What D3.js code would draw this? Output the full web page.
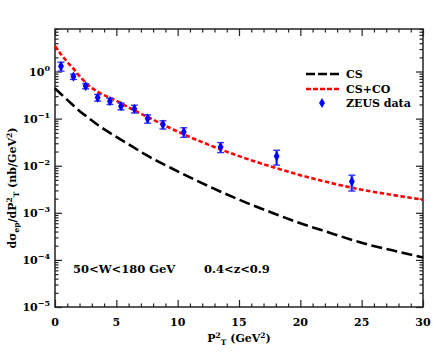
<!DOCTYPE html>
<html>
<head>
<meta charset="utf-8">
<script src="https://cdn.jsdelivr.net/npm/d3@7"></script>
<style>
  body { margin: 0; background: #fff; }
  svg text { font-family: "DejaVu Serif", serif; font-weight: bold; fill: #000; }
</style>
</head>
<body>
<div id="chart"></div>
<script>
// theory curves, sampled on a P_T^2 grid (GeV^2)
const gridP2 = [0, 0.5, 1, 1.5, 2, 2.5, 3.5, 5, 6.25, 7.5, 10, 12.5, 15, 17.5, 20, 22.5, 25, 27.5, 30];
const csVals = [0.44, 0.33, 0.25, 0.19, 0.145, 0.115, 0.073, 0.041, 0.026, 0.0165, 0.0076, 0.0037, 0.0019, 0.00105, 0.0006, 0.00037, 0.00023, 0.00016, 0.000113];
const cscoVals = [3.5, 2.3, 1.6, 1.15, 0.8, 0.58, 0.37, 0.24, 0.16, 0.11, 0.053, 0.028, 0.016, 0.0098, 0.0063, 0.0043, 0.0031, 0.0024, 0.0019];

// ZEUS measurements
const zeusP2 = [0.49, 1.5, 2.5, 3.48, 4.48, 5.38, 6.47, 7.55, 8.8, 10.5, 13.5, 18.07, 24.2];
const zeusVals = [1.30, 0.78, 0.49, 0.28, 0.235, 0.184, 0.162, 0.10, 0.075, 0.052, 0.025, 0.0158, 0.0046];
const zeusErr = [0.28, 0.1, 0.06, 0.045, 0.035, 0.03, 0.03, 0.02, 0.015, 0.012, 0.006, 0.0055, 0.0017];

const xTicks = [0, 5, 10, 15, 20, 25, 30];
const yTicks = [1e-5, 1e-4, 1e-3, 1e-2, 1e-1, 1];
const yTickExp = ['\u22125', '\u22124', '\u22123', '\u22122', '\u22121', '0'];

const W = 436, H = 354;
const margin = { top: 29, right: 13, bottom: 47, left: 55 };
const iw = W - margin.left - margin.right;
const ih = H - margin.top - margin.bottom;

const svg = d3.select('#chart').append('svg')
    .attr('width', W)
    .attr('height', H);

const g = svg.append('g')
    .attr('transform', `translate(${margin.left},${margin.top})`);

const x = d3.scaleLinear().domain([0, 30]).range([0, iw]);
const y = d3.scaleLog().domain([1e-5, 8]).range([ih, 0]);

// minor tick values
const xMinor = d3.range(0, 31, 1).filter(v => v % 5 !== 0);
const yMinor = [];
for (let e = -5; e <= 0; e++) {
    for (let m = 2; m <= 9; m++) {
        const v = m * Math.pow(10, e);
        if (v <= 8) yMinor.push(v);
    }
}

const tickCol = '#222';

// axes with inward ticks on all four sides
function addAxis(axisFn, scale, vals, len, transform) {
    g.append('g')
        .attr('transform', transform)
        .call(axisFn(scale).tickValues(vals).tickSize(len).tickFormat(''))
        .call(a => a.select('.domain').remove())
        .call(a => a.selectAll('line').attr('stroke', tickCol).attr('stroke-width', 1.2));
}

addAxis(d3.axisTop, x, xTicks, 7, `translate(0,${ih})`);
addAxis(d3.axisTop, x, xMinor, 3.5, `translate(0,${ih})`);
addAxis(d3.axisBottom, x, xTicks, 7, 'translate(0,0)');
addAxis(d3.axisBottom, x, xMinor, 3.5, 'translate(0,0)');
addAxis(d3.axisRight, y, yTicks, 7, 'translate(0,0)');
addAxis(d3.axisRight, y, yMinor, 3.5, 'translate(0,0)');
addAxis(d3.axisLeft, y, yTicks, 7, `translate(${iw},0)`);
addAxis(d3.axisLeft, y, yMinor, 3.5, `translate(${iw},0)`);

// frame
g.append('rect')
    .attr('width', iw)
    .attr('height', ih)
    .attr('fill', 'none')
    .attr('stroke', tickCol)
    .attr('stroke-width', 1.5);

// x tick labels
g.selectAll('.xlab')
    .data(xTicks)
    .join('text')
    .attr('class', 'xlab')
    .attr('x', d => x(d))
    .attr('y', ih + 19)
    .attr('text-anchor', 'middle')
    .style('font-size', '11px')
    .text(d => d);

// y tick labels 10^n
const ylab = g.selectAll('.ylab')
    .data(yTicks)
    .join('text')
    .attr('class', 'ylab')
    .attr('x', -5)
    .attr('y', d => y(d) + 4)
    .attr('text-anchor', 'end')
    .style('font-size', '11px');
ylab.append('tspan').text('10');
ylab.append('tspan')
    .attr('dy', -5)
    .style('font-size', '8px')
    .text((d, i) => yTickExp[i]);

// theory curves
const line = d3.line()
    .x(d => x(d[0]))
    .y(d => y(d[1]))
    .curve(d3.curveMonotoneX);

g.append('path')
    .datum(gridP2.map((p, i) => [p, csVals[i]]))
    .attr('d', line)
    .attr('fill', 'none')
    .attr('stroke', '#000')
    .attr('stroke-width', 2.6)
    .attr('stroke-dasharray', '11,4.5');

g.append('path')
    .datum(gridP2.map((p, i) => [p, cscoVals[i]]))
    .attr('d', line)
    .attr('fill', 'none')
    .attr('stroke', '#ff0000')
    .attr('stroke-width', 2.6)
    .attr('stroke-dasharray', '4.5,2.5');

// ZEUS data with error bars
const zeus = zeusP2.map((p, i) => ({ p, v: zeusVals[i], e: zeusErr[i] }));
const pts = g.selectAll('.pt')
    .data(zeus)
    .join('g')
    .attr('class', 'pt')
    .attr('transform', d => `translate(${x(d.p)},0)`);

pts.append('line')
    .attr('y1', d => y(d.v + d.e))
    .attr('y2', d => y(d.v - d.e))
    .attr('stroke', '#7a7aff')
    .attr('stroke-width', 3);
pts.append('line')
    .attr('y1', d => y(d.v + d.e))
    .attr('y2', d => y(d.v - d.e))
    .attr('stroke', '#0000ff')
    .attr('stroke-width', 1.2);
pts.selectAll('.cap')
    .data(d => [d.v + d.e, d.v - d.e])
    .join('line')
    .attr('class', 'cap')
    .attr('x1', -3.5)
    .attr('x2', 3.5)
    .attr('y1', d => y(d))
    .attr('y2', d => y(d))
    .attr('stroke', '#3333ff')
    .attr('stroke-width', 1.4);

const diamond = d3.symbol().type(d3.symbolDiamond).size(30);
pts.append('path')
    .attr('d', diamond)
    .attr('transform', d => `translate(0,${y(d.v)})`)
    .attr('fill', '#0000ff');

// legend
const leg = svg.append('g').attr('transform', 'translate(306,74)');
leg.append('line')
    .attr('x1', 0).attr('x2', 34).attr('y1', 0).attr('y2', 0)
    .attr('stroke', '#000').attr('stroke-width', 2.6)
    .attr('stroke-dasharray', '9,3');
leg.append('line')
    .attr('x1', 0).attr('x2', 34).attr('y1', 15).attr('y2', 15)
    .attr('stroke', '#ff0000').attr('stroke-width', 2.6)
    .attr('stroke-dasharray', '5,2');
leg.append('path')
    .attr('d', diamond)
    .attr('transform', 'translate(16,29)')
    .attr('fill', '#0000ff');
leg.selectAll('text')
    .data(['CS', 'CS+CO', 'ZEUS data'])
    .join('text')
    .attr('x', 40)
    .attr('y', (d, i) => i * 14.5 + 4)
    .style('font-size', '11px')
    .text(d => d);

// kinematic range note
const note = svg.append('text')
    .attr('y', 273)
    .style('font-size', '11.5px');
note.append('tspan').attr('x', 73).text('50<W<180 GeV');
note.append('tspan').attr('x', 204).text('0.4<z<0.9');

// x axis title: P^2_T (GeV^2)
const xt = svg.append('text')
    .attr('x', margin.left + iw / 2)
    .attr('y', 342)
    .attr('text-anchor', 'middle')
    .style('font-size', '11px');
xt.append('tspan').text('P');
xt.append('tspan').attr('dy', -4).style('font-size', '7.5px').text('2');
xt.append('tspan').attr('dy', 7).style('font-size', '7.5px').text('T');
xt.append('tspan').attr('dy', -3).text(' (GeV');
xt.append('tspan').attr('dy', -4).style('font-size', '7.5px').text('2');
xt.append('tspan').attr('dy', 4).text(')');

// y axis title: dσ_ep/dP^2_T (nb/GeV^2)
const yt = svg.append('text')
    .attr('transform', `translate(16,${margin.top + ih / 2 + 20}) rotate(-90)`)
    .attr('text-anchor', 'middle')
    .style('font-size', '11px');
yt.append('tspan').text('d\u03c3');
yt.append('tspan').attr('dy', 3).style('font-size', '7.5px').text('ep');
yt.append('tspan').attr('dy', -3).text('/dP');
yt.append('tspan').attr('dy', -4).style('font-size', '7.5px').text('2');
yt.append('tspan').attr('dy', 7).style('font-size', '7.5px').text('T');
yt.append('tspan').attr('dy', -3).text(' (nb/GeV');
yt.append('tspan').attr('dy', -4).style('font-size', '7.5px').text('2');
yt.append('tspan').attr('dy', 4).text(')');
</script>
</body>
</html>
